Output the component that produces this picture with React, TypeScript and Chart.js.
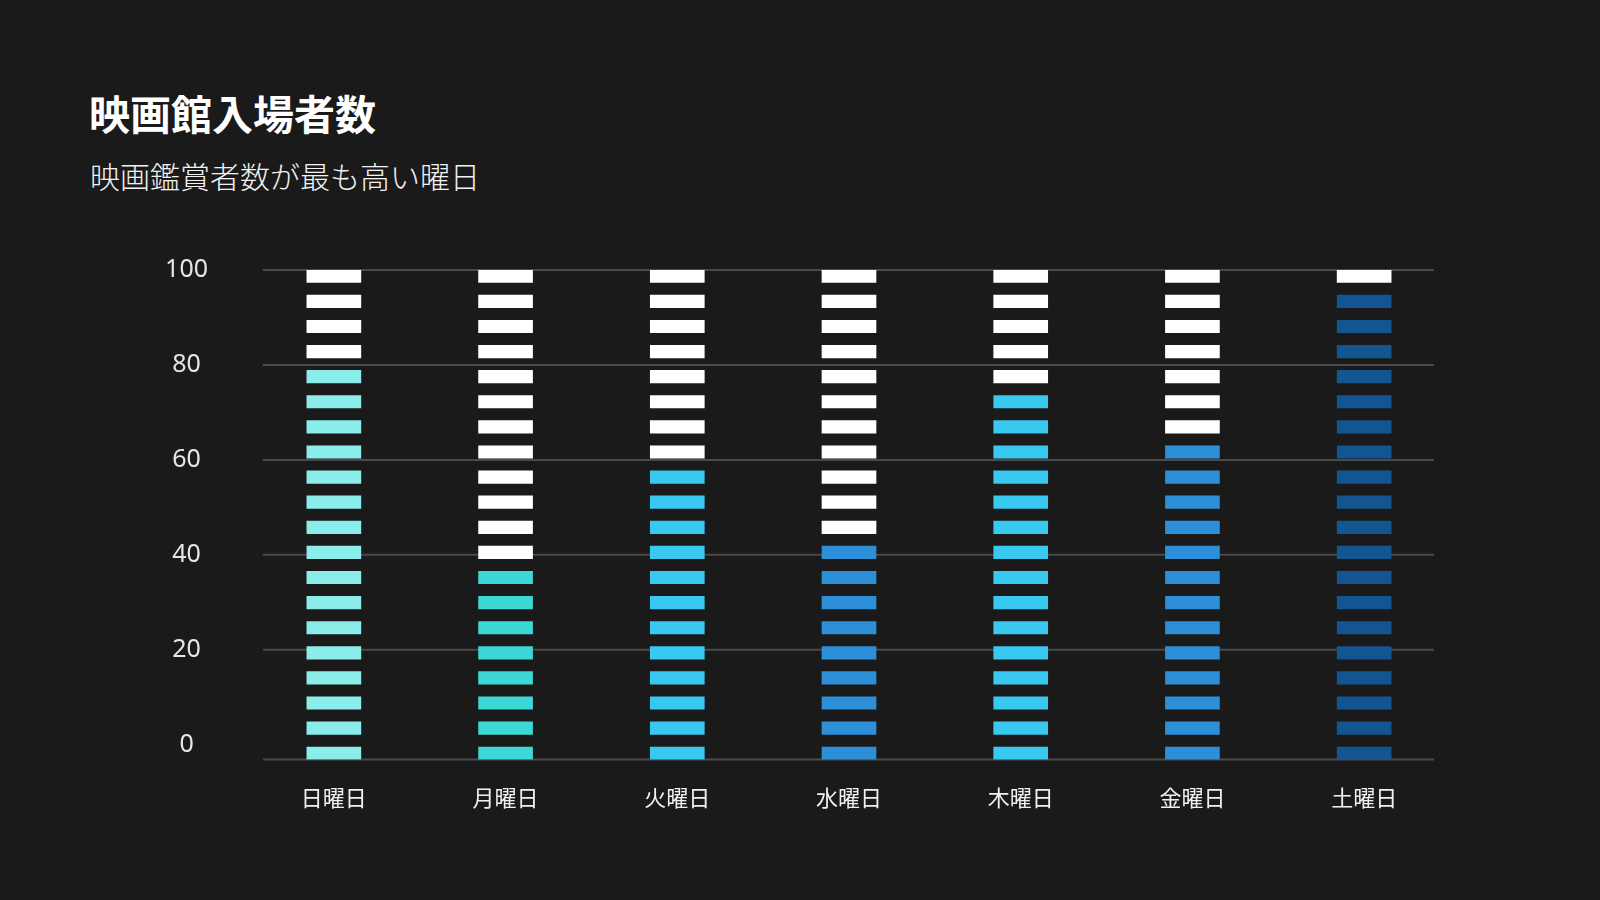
import React, { useEffect, useRef } from 'react';
import { Chart, registerables } from 'chart.js';

Chart.register(...registerables);

// 曜日ごとの入場者数 (1セグメント = 5)
const days = ['日曜日', '月曜日', '火曜日', '水曜日', '木曜日', '金曜日', '土曜日'];
const attendance = [80, 40, 60, 45, 75, 65, 95];
const dayColors = ['#8aedea', '#3dd8d5', '#38c8f0', '#2d8fd8', '#38c8f0', '#2d8fd8', '#135590'];
const yTicks = [0, 20, 40, 60, 80, 100];

const STEP = 5;
const SEGMENTS = 20;
const Y_MIN = -3.1;
const Y_MAX = 100;
const SEG_H = 2.63;
const PITCH = (Y_MAX - Y_MIN - SEG_H) / (SEGMENTS - 1);

const BG = '#1a1a1a';

// グリッド線を少し内側から描く
const insetGrid = {
  id: 'insetGrid',
  beforeDatasetsDraw(chart: any) {
    const { ctx, chartArea, scales } = chart;
    const left = chartArea.left + 15;
    const right = chartArea.right - 16;
    const ys = yTicks.filter(t => t > 0).map(t => scales.y.getPixelForValue(t));
    ys.push(chartArea.bottom);
    ctx.save();
    ctx.strokeStyle = '#4a4a4a';
    ctx.lineWidth = 2;
    ys.forEach((y: number) => {
      ctx.beginPath();
      ctx.moveTo(left, y);
      ctx.lineTo(right, y);
      ctx.stroke();
    });
    ctx.restore();
  },
};

const App: React.FC = () => {
  const chartRef = useRef<HTMLCanvasElement>(null);
  const chartInstance = useRef<Chart | null>(null);

  useEffect(() => {
    document.body.style.margin = '0';
    document.body.style.background = BG;
    if (!chartRef.current) return;
    if (chartInstance.current) chartInstance.current.destroy();

    const datasets = Array.from({ length: SEGMENTS }, (_, k) => {
      const lo = Y_MIN + k * PITCH;
      return {
        label: `seg${k}`,
        data: days.map(() => [lo, lo + SEG_H]),
        backgroundColor: attendance.map((v, i) => (k < v / STEP ? dayColors[i] : '#ffffff')),
        grouped: false,
        barThickness: 54,
        borderWidth: 0,
      };
    });

    chartInstance.current = new Chart(chartRef.current, {
      type: 'bar',
      data: { labels: days, datasets: datasets as any },
      options: {
        responsive: true,
        maintainAspectRatio: false,
        animation: false,
        layout: { padding: { left: 148, right: 150, top: 270, bottom: 80.5 } },
        plugins: {
          legend: { display: false },
          tooltip: { enabled: false },
        },
        scales: {
          x: {
            grid: { display: false },
            border: { display: false },
            ticks: {
              color: '#f0f0f0',
              padding: 17,
              font: { family: "'Noto Sans CJK JP', sans-serif", size: 22 },
            },
            afterFit: (scale: any) => {
              scale.height = 60;
            },
          },
          y: {
            min: Y_MIN,
            max: Y_MAX,
            grid: { display: false },
            border: { display: false },
            afterBuildTicks: (scale: any) => {
              scale.ticks = yTicks.map(v => ({ value: v }));
            },
            ticks: {
              color: '#e6e6e6',
              padding: 32,
              crossAlign: 'center',
              font: { family: "'Noto Sans', sans-serif", size: 25 },
            },
            afterFit: (scale: any) => {
              scale.width = 100;
            },
          },
        },
      },
      plugins: [insetGrid],
    });

    return () => {
      if (chartInstance.current) {
        chartInstance.current.destroy();
        chartInstance.current = null;
      }
    };
  }, []);

  return (
    <div style={{ position: 'relative', width: 1600, height: 900, background: BG, overflow: 'hidden' }}>
      <div
        style={{
          position: 'absolute',
          left: 89,
          top: 92,
          fontFamily: "'Noto Sans CJK JP', sans-serif",
          fontWeight: 700,
          fontSize: 41,
          lineHeight: '41px',
          color: '#ffffff',
          whiteSpace: 'nowrap',
        }}
      >
        映画館入場者数
      </div>
      <div
        style={{
          position: 'absolute',
          left: 90,
          top: 160,
          fontFamily: "'Noto Sans CJK JP', sans-serif",
          fontWeight: 300,
          fontSize: 30,
          lineHeight: '30px',
          color: '#f2f2f2',
          whiteSpace: 'nowrap',
        }}
      >
        映画鑑賞者数が最も高い曜日
      </div>
      <div style={{ position: 'absolute', left: 0, top: 0, width: 1600, height: 900 }}>
        <canvas ref={chartRef}></canvas>
      </div>
    </div>
  );
};

export default App;
